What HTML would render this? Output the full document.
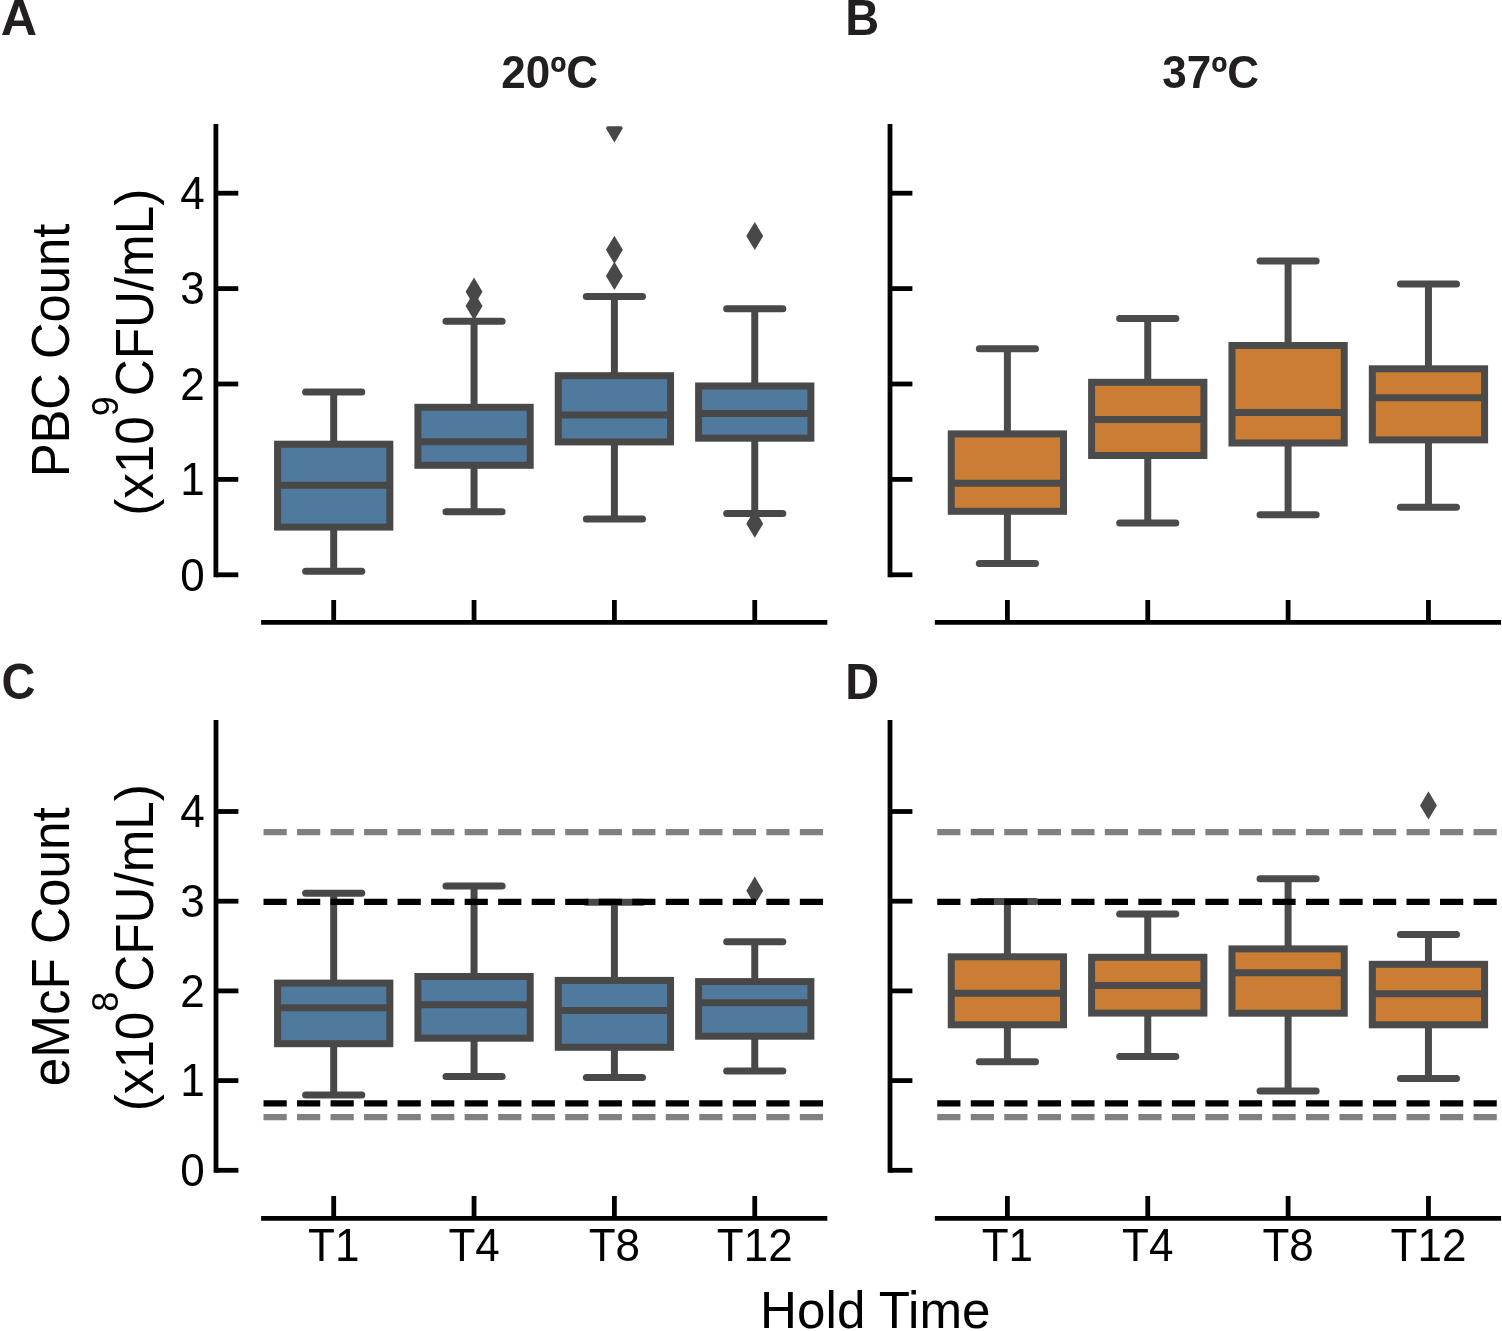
<!DOCTYPE html>
<html><head><meta charset="utf-8"><title>Hold time box plots</title>
<style>
html,body{margin:0;padding:0;background:#fff;}
body{width:1502px;height:1331px;overflow:hidden;}
svg{display:block;}
.tk{font-family:'Liberation Sans', Arial, Helvetica, sans-serif;font-size:44px;fill:#000;}
.yl{font-family:'Liberation Sans', Arial, Helvetica, sans-serif;font-size:51.2px;fill:#000;}
.sup{font-size:35.84px;}
.pl{font-family:'Liberation Sans', Arial, Helvetica, sans-serif;font-size:47px;font-weight:bold;fill:#231f20;}
.tt{font-family:'Liberation Sans', Arial, Helvetica, sans-serif;font-size:44px;font-weight:bold;fill:#231f20;}
</style></head>
<body>
<svg width="1502" height="1331" viewBox="0 0 1502 1331">
<defs><clipPath id="clipA"><rect x="263.52" y="126.3" width="561.4" height="648.5"/></clipPath><clipPath id="clipB"><rect x="937.23" y="126.3" width="561.4" height="648.5"/></clipPath><clipPath id="clipC"><rect x="263.52" y="722.5" width="561.4" height="647.8"/></clipPath><clipPath id="clipD"><rect x="937.23" y="722.5" width="561.4" height="647.8"/></clipPath></defs>
<rect width="1502" height="1331" fill="#fff"/>
<g clip-path="url(#clipA)">
<line x1="333.7" y1="444.2" x2="333.7" y2="392.1" stroke="#484848" stroke-width="7.0"/>
<line x1="333.7" y1="527.1" x2="333.7" y2="571.3" stroke="#484848" stroke-width="7.0"/>
<line x1="305.63" y1="392.1" x2="361.77" y2="392.1" stroke="#484848" stroke-width="7.0" stroke-linecap="round"/>
<line x1="305.63" y1="571.3" x2="361.77" y2="571.3" stroke="#484848" stroke-width="7.0" stroke-linecap="round"/>
<rect x="277.56" y="444.2" width="112.28" height="82.9" fill="#4f7a9e" stroke="#484848" stroke-width="7.0"/>
<line x1="277.56" y1="485.3" x2="389.84" y2="485.3" stroke="#484848" stroke-width="7.0"/>
<line x1="474.05" y1="407.3" x2="474.05" y2="321.2" stroke="#484848" stroke-width="7.0"/>
<line x1="474.05" y1="465.3" x2="474.05" y2="511.7" stroke="#484848" stroke-width="7.0"/>
<line x1="445.98" y1="321.2" x2="502.12" y2="321.2" stroke="#484848" stroke-width="7.0" stroke-linecap="round"/>
<line x1="445.98" y1="511.7" x2="502.12" y2="511.7" stroke="#484848" stroke-width="7.0" stroke-linecap="round"/>
<rect x="417.91" y="407.3" width="112.28" height="58" fill="#4f7a9e" stroke="#484848" stroke-width="7.0"/>
<line x1="417.91" y1="441.8" x2="530.19" y2="441.8" stroke="#484848" stroke-width="7.0"/>
<path d="M474.05 277.6L482.5 291.7L474.05 305.8L465.6 291.7Z" fill="#484848"/>
<path d="M474.05 292L482.5 306.1L474.05 320.2L465.6 306.1Z" fill="#484848"/>
<line x1="614.4" y1="375.7" x2="614.4" y2="296.5" stroke="#484848" stroke-width="7.0"/>
<line x1="614.4" y1="441.9" x2="614.4" y2="519" stroke="#484848" stroke-width="7.0"/>
<line x1="586.33" y1="296.5" x2="642.47" y2="296.5" stroke="#484848" stroke-width="7.0" stroke-linecap="round"/>
<line x1="586.33" y1="519" x2="642.47" y2="519" stroke="#484848" stroke-width="7.0" stroke-linecap="round"/>
<rect x="558.26" y="375.7" width="112.28" height="66.2" fill="#4f7a9e" stroke="#484848" stroke-width="7.0"/>
<line x1="558.26" y1="415" x2="670.54" y2="415" stroke="#484848" stroke-width="7.0"/>
<path d="M614.4 235.7L622.85 249.8L614.4 263.9L605.95 249.8Z" fill="#484848"/>
<path d="M614.4 261.8L622.85 275.9L614.4 290L605.95 275.9Z" fill="#484848"/>
<path d="M614.4 114.2L622.85 128.3L614.4 142.4L605.95 128.3Z" fill="#484848"/>
<line x1="754.75" y1="386" x2="754.75" y2="308.8" stroke="#484848" stroke-width="7.0"/>
<line x1="754.75" y1="438.2" x2="754.75" y2="513.4" stroke="#484848" stroke-width="7.0"/>
<line x1="726.68" y1="308.8" x2="782.82" y2="308.8" stroke="#484848" stroke-width="7.0" stroke-linecap="round"/>
<line x1="726.68" y1="513.4" x2="782.82" y2="513.4" stroke="#484848" stroke-width="7.0" stroke-linecap="round"/>
<rect x="698.61" y="386" width="112.28" height="52.2" fill="#4f7a9e" stroke="#484848" stroke-width="7.0"/>
<line x1="698.61" y1="413.6" x2="810.89" y2="413.6" stroke="#484848" stroke-width="7.0"/>
<path d="M754.75 221.9L763.2 236L754.75 250.1L746.3 236Z" fill="#484848"/>
<path d="M754.75 509.6L763.2 523.7L754.75 537.8L746.3 523.7Z" fill="#484848"/>
</g>
<line x1="215.9" y1="123.9" x2="215.9" y2="577.2" stroke="#000" stroke-width="4.8"/>
<line x1="261.12" y1="622.4" x2="827.32" y2="622.4" stroke="#000" stroke-width="4.8"/>
<line x1="215.9" y1="574.8" x2="238.3" y2="574.8" stroke="#000" stroke-width="4.8"/>
<text transform="translate(204.6 590.55) scale(1 1.04)" class="tk" text-anchor="end">0</text>
<line x1="215.9" y1="479.4" x2="238.3" y2="479.4" stroke="#000" stroke-width="4.8"/>
<text transform="translate(204.6 495.15) scale(1 1.04)" class="tk" text-anchor="end">1</text>
<line x1="215.9" y1="384" x2="238.3" y2="384" stroke="#000" stroke-width="4.8"/>
<text transform="translate(204.6 399.75) scale(1 1.04)" class="tk" text-anchor="end">2</text>
<line x1="215.9" y1="288.6" x2="238.3" y2="288.6" stroke="#000" stroke-width="4.8"/>
<text transform="translate(204.6 304.35) scale(1 1.04)" class="tk" text-anchor="end">3</text>
<line x1="215.9" y1="193.2" x2="238.3" y2="193.2" stroke="#000" stroke-width="4.8"/>
<text transform="translate(204.6 208.95) scale(1 1.04)" class="tk" text-anchor="end">4</text>
<line x1="333.7" y1="622.4" x2="333.7" y2="600" stroke="#000" stroke-width="4.8"/>
<line x1="474.05" y1="622.4" x2="474.05" y2="600" stroke="#000" stroke-width="4.8"/>
<line x1="614.4" y1="622.4" x2="614.4" y2="600" stroke="#000" stroke-width="4.8"/>
<line x1="754.75" y1="622.4" x2="754.75" y2="600" stroke="#000" stroke-width="4.8"/>
<g clip-path="url(#clipB)">
<line x1="1007.4" y1="433.9" x2="1007.4" y2="348.8" stroke="#4b4b4b" stroke-width="7.0"/>
<line x1="1007.4" y1="511.3" x2="1007.4" y2="563.4" stroke="#4b4b4b" stroke-width="7.0"/>
<line x1="979.33" y1="348.8" x2="1035.47" y2="348.8" stroke="#4b4b4b" stroke-width="7.0" stroke-linecap="round"/>
<line x1="979.33" y1="563.4" x2="1035.47" y2="563.4" stroke="#4b4b4b" stroke-width="7.0" stroke-linecap="round"/>
<rect x="951.26" y="433.9" width="112.28" height="77.4" fill="#cb7e33" stroke="#4b4b4b" stroke-width="7.0"/>
<line x1="951.26" y1="483.3" x2="1063.54" y2="483.3" stroke="#4b4b4b" stroke-width="7.0"/>
<line x1="1147.75" y1="382.3" x2="1147.75" y2="318.5" stroke="#4b4b4b" stroke-width="7.0"/>
<line x1="1147.75" y1="455.5" x2="1147.75" y2="523.1" stroke="#4b4b4b" stroke-width="7.0"/>
<line x1="1119.68" y1="318.5" x2="1175.82" y2="318.5" stroke="#4b4b4b" stroke-width="7.0" stroke-linecap="round"/>
<line x1="1119.68" y1="523.1" x2="1175.82" y2="523.1" stroke="#4b4b4b" stroke-width="7.0" stroke-linecap="round"/>
<rect x="1091.61" y="382.3" width="112.28" height="73.2" fill="#cb7e33" stroke="#4b4b4b" stroke-width="7.0"/>
<line x1="1091.61" y1="419.5" x2="1203.89" y2="419.5" stroke="#4b4b4b" stroke-width="7.0"/>
<line x1="1288.1" y1="345.5" x2="1288.1" y2="261.1" stroke="#4b4b4b" stroke-width="7.0"/>
<line x1="1288.1" y1="443" x2="1288.1" y2="514.8" stroke="#4b4b4b" stroke-width="7.0"/>
<line x1="1260.03" y1="261.1" x2="1316.17" y2="261.1" stroke="#4b4b4b" stroke-width="7.0" stroke-linecap="round"/>
<line x1="1260.03" y1="514.8" x2="1316.17" y2="514.8" stroke="#4b4b4b" stroke-width="7.0" stroke-linecap="round"/>
<rect x="1231.96" y="345.5" width="112.28" height="97.5" fill="#cb7e33" stroke="#4b4b4b" stroke-width="7.0"/>
<line x1="1231.96" y1="412.5" x2="1344.24" y2="412.5" stroke="#4b4b4b" stroke-width="7.0"/>
<line x1="1428.45" y1="368.8" x2="1428.45" y2="284" stroke="#4b4b4b" stroke-width="7.0"/>
<line x1="1428.45" y1="439.9" x2="1428.45" y2="507.3" stroke="#4b4b4b" stroke-width="7.0"/>
<line x1="1400.38" y1="284" x2="1456.52" y2="284" stroke="#4b4b4b" stroke-width="7.0" stroke-linecap="round"/>
<line x1="1400.38" y1="507.3" x2="1456.52" y2="507.3" stroke="#4b4b4b" stroke-width="7.0" stroke-linecap="round"/>
<rect x="1372.31" y="368.8" width="112.28" height="71.1" fill="#cb7e33" stroke="#4b4b4b" stroke-width="7.0"/>
<line x1="1372.31" y1="397.8" x2="1484.59" y2="397.8" stroke="#4b4b4b" stroke-width="7.0"/>
</g>
<line x1="890" y1="123.9" x2="890" y2="577.2" stroke="#000" stroke-width="4.8"/>
<line x1="934.83" y1="622.4" x2="1501.03" y2="622.4" stroke="#000" stroke-width="4.8"/>
<line x1="890" y1="574.8" x2="912.4" y2="574.8" stroke="#000" stroke-width="4.8"/>
<line x1="890" y1="479.4" x2="912.4" y2="479.4" stroke="#000" stroke-width="4.8"/>
<line x1="890" y1="384" x2="912.4" y2="384" stroke="#000" stroke-width="4.8"/>
<line x1="890" y1="288.6" x2="912.4" y2="288.6" stroke="#000" stroke-width="4.8"/>
<line x1="890" y1="193.2" x2="912.4" y2="193.2" stroke="#000" stroke-width="4.8"/>
<line x1="1007.4" y1="622.4" x2="1007.4" y2="600" stroke="#000" stroke-width="4.8"/>
<line x1="1147.75" y1="622.4" x2="1147.75" y2="600" stroke="#000" stroke-width="4.8"/>
<line x1="1288.1" y1="622.4" x2="1288.1" y2="600" stroke="#000" stroke-width="4.8"/>
<line x1="1428.45" y1="622.4" x2="1428.45" y2="600" stroke="#000" stroke-width="4.8"/>
<g clip-path="url(#clipC)">
<line x1="333.7" y1="983.1" x2="333.7" y2="893.2" stroke="#484848" stroke-width="7.0"/>
<line x1="333.7" y1="1043.7" x2="333.7" y2="1094.9" stroke="#484848" stroke-width="7.0"/>
<line x1="305.63" y1="893.2" x2="361.77" y2="893.2" stroke="#484848" stroke-width="7.0" stroke-linecap="round"/>
<line x1="305.63" y1="1094.9" x2="361.77" y2="1094.9" stroke="#484848" stroke-width="7.0" stroke-linecap="round"/>
<rect x="277.56" y="983.1" width="112.28" height="60.6" fill="#4f7a9e" stroke="#484848" stroke-width="7.0"/>
<line x1="277.56" y1="1007.65" x2="389.84" y2="1007.65" stroke="#484848" stroke-width="7.0"/>
<line x1="474.05" y1="976.5" x2="474.05" y2="885.9" stroke="#484848" stroke-width="7.0"/>
<line x1="474.05" y1="1038.2" x2="474.05" y2="1076.5" stroke="#484848" stroke-width="7.0"/>
<line x1="445.98" y1="885.9" x2="502.12" y2="885.9" stroke="#484848" stroke-width="7.0" stroke-linecap="round"/>
<line x1="445.98" y1="1076.5" x2="502.12" y2="1076.5" stroke="#484848" stroke-width="7.0" stroke-linecap="round"/>
<rect x="417.91" y="976.5" width="112.28" height="61.7" fill="#4f7a9e" stroke="#484848" stroke-width="7.0"/>
<line x1="417.91" y1="1004.85" x2="530.19" y2="1004.85" stroke="#484848" stroke-width="7.0"/>
<line x1="614.4" y1="980.4" x2="614.4" y2="902.3" stroke="#484848" stroke-width="7.0"/>
<line x1="614.4" y1="1047.3" x2="614.4" y2="1077.6" stroke="#484848" stroke-width="7.0"/>
<line x1="586.33" y1="902.3" x2="642.47" y2="902.3" stroke="#484848" stroke-width="7.0" stroke-linecap="round"/>
<line x1="586.33" y1="1077.6" x2="642.47" y2="1077.6" stroke="#484848" stroke-width="7.0" stroke-linecap="round"/>
<rect x="558.26" y="980.4" width="112.28" height="66.9" fill="#4f7a9e" stroke="#484848" stroke-width="7.0"/>
<line x1="558.26" y1="1010.6" x2="670.54" y2="1010.6" stroke="#484848" stroke-width="7.0"/>
<line x1="754.75" y1="981.6" x2="754.75" y2="941.8" stroke="#484848" stroke-width="7.0"/>
<line x1="754.75" y1="1036.2" x2="754.75" y2="1071.1" stroke="#484848" stroke-width="7.0"/>
<line x1="726.68" y1="941.8" x2="782.82" y2="941.8" stroke="#484848" stroke-width="7.0" stroke-linecap="round"/>
<line x1="726.68" y1="1071.1" x2="782.82" y2="1071.1" stroke="#484848" stroke-width="7.0" stroke-linecap="round"/>
<rect x="698.61" y="981.6" width="112.28" height="54.6" fill="#4f7a9e" stroke="#484848" stroke-width="7.0"/>
<line x1="698.61" y1="1002.7" x2="810.89" y2="1002.7" stroke="#484848" stroke-width="7.0"/>
<path d="M754.75 876.6L763.2 890.7L754.75 904.8L746.3 890.7Z" fill="#484848"/>
</g>
<line x1="263.52" y1="832.2" x2="824.92" y2="832.2" stroke="#808080" stroke-width="6.3" stroke-dasharray="23.2 10.32"/>
<line x1="263.52" y1="901.8" x2="824.92" y2="901.8" stroke="#000" stroke-width="6.3" stroke-dasharray="23.2 10.32"/>
<line x1="263.52" y1="1103.3" x2="824.92" y2="1103.3" stroke="#000" stroke-width="6.3" stroke-dasharray="23.2 10.32"/>
<line x1="263.52" y1="1117.2" x2="824.92" y2="1117.2" stroke="#808080" stroke-width="6.3" stroke-dasharray="23.2 10.32"/>
<line x1="216" y1="720.1" x2="216" y2="1172.7" stroke="#000" stroke-width="4.8"/>
<line x1="261.12" y1="1218.4" x2="827.32" y2="1218.4" stroke="#000" stroke-width="4.8"/>
<line x1="216" y1="1170.3" x2="238.4" y2="1170.3" stroke="#000" stroke-width="4.8"/>
<text transform="translate(204.7 1186.05) scale(1 1.04)" class="tk" text-anchor="end">0</text>
<line x1="216" y1="1080.6" x2="238.4" y2="1080.6" stroke="#000" stroke-width="4.8"/>
<text transform="translate(204.7 1096.35) scale(1 1.04)" class="tk" text-anchor="end">1</text>
<line x1="216" y1="990.9" x2="238.4" y2="990.9" stroke="#000" stroke-width="4.8"/>
<text transform="translate(204.7 1006.65) scale(1 1.04)" class="tk" text-anchor="end">2</text>
<line x1="216" y1="901.2" x2="238.4" y2="901.2" stroke="#000" stroke-width="4.8"/>
<text transform="translate(204.7 916.95) scale(1 1.04)" class="tk" text-anchor="end">3</text>
<line x1="216" y1="811.5" x2="238.4" y2="811.5" stroke="#000" stroke-width="4.8"/>
<text transform="translate(204.7 827.25) scale(1 1.04)" class="tk" text-anchor="end">4</text>
<line x1="333.7" y1="1218.4" x2="333.7" y2="1196" stroke="#000" stroke-width="4.8"/>
<text transform="translate(333.7 1261.3) scale(1 1.04)" class="tk" text-anchor="middle">T1</text>
<line x1="474.05" y1="1218.4" x2="474.05" y2="1196" stroke="#000" stroke-width="4.8"/>
<text transform="translate(474.05 1261.3) scale(1 1.04)" class="tk" text-anchor="middle">T4</text>
<line x1="614.4" y1="1218.4" x2="614.4" y2="1196" stroke="#000" stroke-width="4.8"/>
<text transform="translate(614.4 1261.3) scale(1 1.04)" class="tk" text-anchor="middle">T8</text>
<line x1="754.75" y1="1218.4" x2="754.75" y2="1196" stroke="#000" stroke-width="4.8"/>
<text transform="translate(754.75 1261.3) scale(1 1.04)" class="tk" text-anchor="middle">T12</text>
<g clip-path="url(#clipD)">
<line x1="1007.4" y1="956.8" x2="1007.4" y2="901.5" stroke="#4b4b4b" stroke-width="7.0"/>
<line x1="1007.4" y1="1024.8" x2="1007.4" y2="1061.7" stroke="#4b4b4b" stroke-width="7.0"/>
<line x1="979.33" y1="901.5" x2="1035.47" y2="901.5" stroke="#4b4b4b" stroke-width="7.0" stroke-linecap="round"/>
<line x1="979.33" y1="1061.7" x2="1035.47" y2="1061.7" stroke="#4b4b4b" stroke-width="7.0" stroke-linecap="round"/>
<rect x="951.26" y="956.8" width="112.28" height="68" fill="#cb7e33" stroke="#4b4b4b" stroke-width="7.0"/>
<line x1="951.26" y1="993.3" x2="1063.54" y2="993.3" stroke="#4b4b4b" stroke-width="7.0"/>
<line x1="1147.75" y1="957.3" x2="1147.75" y2="913.9" stroke="#4b4b4b" stroke-width="7.0"/>
<line x1="1147.75" y1="1013.1" x2="1147.75" y2="1056.4" stroke="#4b4b4b" stroke-width="7.0"/>
<line x1="1119.68" y1="913.9" x2="1175.82" y2="913.9" stroke="#4b4b4b" stroke-width="7.0" stroke-linecap="round"/>
<line x1="1119.68" y1="1056.4" x2="1175.82" y2="1056.4" stroke="#4b4b4b" stroke-width="7.0" stroke-linecap="round"/>
<rect x="1091.61" y="957.3" width="112.28" height="55.8" fill="#cb7e33" stroke="#4b4b4b" stroke-width="7.0"/>
<line x1="1091.61" y1="985.6" x2="1203.89" y2="985.6" stroke="#4b4b4b" stroke-width="7.0"/>
<line x1="1288.1" y1="948.9" x2="1288.1" y2="878.8" stroke="#4b4b4b" stroke-width="7.0"/>
<line x1="1288.1" y1="1013.2" x2="1288.1" y2="1090.9" stroke="#4b4b4b" stroke-width="7.0"/>
<line x1="1260.03" y1="878.8" x2="1316.17" y2="878.8" stroke="#4b4b4b" stroke-width="7.0" stroke-linecap="round"/>
<line x1="1260.03" y1="1090.9" x2="1316.17" y2="1090.9" stroke="#4b4b4b" stroke-width="7.0" stroke-linecap="round"/>
<rect x="1231.96" y="948.9" width="112.28" height="64.3" fill="#cb7e33" stroke="#4b4b4b" stroke-width="7.0"/>
<line x1="1231.96" y1="972.8" x2="1344.24" y2="972.8" stroke="#4b4b4b" stroke-width="7.0"/>
<line x1="1428.45" y1="964.3" x2="1428.45" y2="934.5" stroke="#4b4b4b" stroke-width="7.0"/>
<line x1="1428.45" y1="1024.8" x2="1428.45" y2="1078.4" stroke="#4b4b4b" stroke-width="7.0"/>
<line x1="1400.38" y1="934.5" x2="1456.52" y2="934.5" stroke="#4b4b4b" stroke-width="7.0" stroke-linecap="round"/>
<line x1="1400.38" y1="1078.4" x2="1456.52" y2="1078.4" stroke="#4b4b4b" stroke-width="7.0" stroke-linecap="round"/>
<rect x="1372.31" y="964.3" width="112.28" height="60.5" fill="#cb7e33" stroke="#4b4b4b" stroke-width="7.0"/>
<line x1="1372.31" y1="993.7" x2="1484.59" y2="993.7" stroke="#4b4b4b" stroke-width="7.0"/>
<path d="M1428.45 791.3L1436.9 805.4L1428.45 819.5L1420 805.4Z" fill="#4b4b4b"/>
</g>
<line x1="937.23" y1="832.2" x2="1498.62" y2="832.2" stroke="#808080" stroke-width="6.3" stroke-dasharray="23.2 10.32"/>
<line x1="937.23" y1="901.8" x2="1498.62" y2="901.8" stroke="#000" stroke-width="6.3" stroke-dasharray="23.2 10.32"/>
<line x1="937.23" y1="1103.3" x2="1498.62" y2="1103.3" stroke="#000" stroke-width="6.3" stroke-dasharray="23.2 10.32"/>
<line x1="937.23" y1="1117.2" x2="1498.62" y2="1117.2" stroke="#808080" stroke-width="6.3" stroke-dasharray="23.2 10.32"/>
<line x1="890" y1="720.1" x2="890" y2="1172.7" stroke="#000" stroke-width="4.8"/>
<line x1="934.83" y1="1218.4" x2="1501.03" y2="1218.4" stroke="#000" stroke-width="4.8"/>
<line x1="890" y1="1170.3" x2="912.4" y2="1170.3" stroke="#000" stroke-width="4.8"/>
<line x1="890" y1="1080.6" x2="912.4" y2="1080.6" stroke="#000" stroke-width="4.8"/>
<line x1="890" y1="990.9" x2="912.4" y2="990.9" stroke="#000" stroke-width="4.8"/>
<line x1="890" y1="901.2" x2="912.4" y2="901.2" stroke="#000" stroke-width="4.8"/>
<line x1="890" y1="811.5" x2="912.4" y2="811.5" stroke="#000" stroke-width="4.8"/>
<line x1="1007.4" y1="1218.4" x2="1007.4" y2="1196" stroke="#000" stroke-width="4.8"/>
<text transform="translate(1007.4 1261.3) scale(1 1.04)" class="tk" text-anchor="middle">T1</text>
<line x1="1147.75" y1="1218.4" x2="1147.75" y2="1196" stroke="#000" stroke-width="4.8"/>
<text transform="translate(1147.75 1261.3) scale(1 1.04)" class="tk" text-anchor="middle">T4</text>
<line x1="1288.1" y1="1218.4" x2="1288.1" y2="1196" stroke="#000" stroke-width="4.8"/>
<text transform="translate(1288.1 1261.3) scale(1 1.04)" class="tk" text-anchor="middle">T8</text>
<line x1="1428.45" y1="1218.4" x2="1428.45" y2="1196" stroke="#000" stroke-width="4.8"/>
<text transform="translate(1428.45 1261.3) scale(1 1.04)" class="tk" text-anchor="middle">T12</text>
<text class="yl" style="font-size:50.7px" transform="translate(69.1 350.55) rotate(-90) scale(1 1.04)" text-anchor="middle">PBC Count</text>
<text class="yl" transform="translate(152.6 352.3) rotate(-90) scale(1 1.04)" text-anchor="middle">(x10<tspan dy="-33.6" class="sup">9</tspan><tspan dy="33.6">CFU/mL)</tspan></text>
<text class="yl" style="font-size:51.2px" transform="translate(69.1 946.75) rotate(-90) scale(1 1.04)" text-anchor="middle">eMcF Count</text>
<text class="yl" transform="translate(152.6 947.7) rotate(-90) scale(1 1.04)" text-anchor="middle">(x10<tspan dy="-33.6" class="sup">8</tspan><tspan dy="33.6">CFU/mL)</tspan></text>
<text transform="translate(0.8 34.75) scale(1.07 1.045)" class="pl">A</text>
<text transform="translate(845.2 34.75) scale(1 1.045)" class="pl">B</text>
<text transform="translate(1.6 699.2) scale(1 1.045)" class="pl">C</text>
<text transform="translate(845.2 699.2) scale(1 1.045)" class="pl">D</text>
<text transform="translate(549.6 87.6) scale(1 1.04)" class="tt" text-anchor="middle">20ºC</text>
<text transform="translate(1210.6 87.6) scale(1 1.04)" class="tt" text-anchor="middle">37ºC</text>
<text transform="translate(760.1 1328.3) scale(1 1.015)" class="yl">Hold Time</text>
</svg>
</body></html>
